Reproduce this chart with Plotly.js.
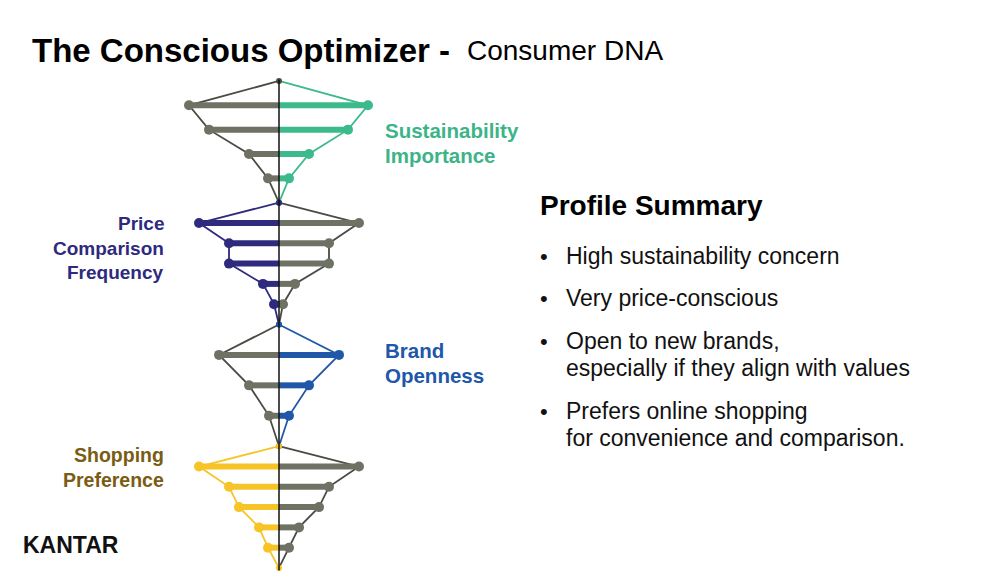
<!DOCTYPE html>
<html>
<head>
<meta charset="utf-8">
<script src="https://cdn.plot.ly/plotly-3.0.1.min.js"></script>
<style>html,body{margin:0;padding:0;background:#fff;}#chart{width:1004px;height:576px;}</style>
</head>
<body>
<div id="chart"></div>
<script>
// ---- data ----
const segmentLabels = [["Sustainability", "Importance"], ["Price", "Comparison", "Frequency"], ["Brand", "Openness"], ["Shopping", "Preference"]];
const sustainabilityLeft = [9, 7, 3, 1.1];
const sustainabilityRight = [8.9, 6.9, 3, 1];
const priceLeft = [8, 5, 5, 1.6, 0.5];
const priceRight = [8, 5, 5, 1.6, 0.4];
const brandLeft = [6, 3, 1];
const brandRight = [6, 3, 1];
const shoppingLeft = [8, 5, 4, 2, 1.1];
const shoppingRight = [8, 5, 4, 2, 1];
const coloredSide = ["right", "left", "right", "left"];
const summaryTitle = "Profile Summary";
const summaryBullets = [["High sustainability concern"], ["Very price-conscious"], ["Open to new brands,", "especially if they align with values"], ["Prefers online shopping", "for convenience and comparison."]];

// ---- styles ----
const segColors = ["#3dba8b", "#2e2a7e", "#2057a8", "#f7c427"];
const labelColors = ["#3db487", "#2e2a7e", "#2057a8", "#7a5c12"];
const grayBar = "#6e7264";
const grayLine = "#4a4b43";
const FONT = "Liberation Sans, Arial, sans-serif";

const W = 1004, H = 576;
const px = x => x / W;
const py = y => 1 - y / H;

const segments = [
  [sustainabilityLeft, sustainabilityRight],
  [priceLeft, priceRight],
  [brandLeft, brandRight],
  [shoppingLeft, shoppingRight]
];

const traces = [];
segments.forEach((seg, s) => {
  [0, 1].forEach(side => {
    const vals = seg[side];
    const sign = side === 0 ? -1 : 1;
    const isColored = (coloredSide[s] === "left") === (side === 0);
    const barC = isColored ? segColors[s] : grayBar;
    const lineC = isColored ? segColors[s] : grayLine;
    const n = vals.length;
    const ys = vals.map((v, i) => s + (i + 1) / (n + 1));
    // outline
    traces.push({
      x: [0].concat(vals.map(v => sign * v), [0]),
      y: [s].concat(ys, [s + 1]),
      mode: "lines", line: {color: lineC, width: 1.8}, hoverinfo: "skip", showlegend: false
    });
    // bars
    const bx = [], by = [];
    vals.forEach((v, i) => { bx.push(0, sign * v, null); by.push(ys[i], ys[i], null); });
    traces.push({x: bx, y: by, mode: "lines", line: {color: barC, width: 6}, hoverinfo: "skip", showlegend: false});
    // end markers
    traces.push({
      x: vals.map(v => sign * v), y: ys, mode: "markers",
      marker: {color: barC, size: 10}, hoverinfo: "skip", showlegend: false
    });
  });
});
// apex markers
segments.forEach((seg, s) => {
  traces.push({x: [0, 0], y: [s, s + 1], mode: "markers", marker: {color: s === 0 ? grayLine : segColors[s], size: 6}, hoverinfo: "skip", showlegend: false});
});
// central axis line
traces.push({x: [0, 0], y: [-0.01, segments.length + 0.02], mode: "lines", line: {color: "#111", width: 1.5}, hoverinfo: "skip", showlegend: false});

const annotations = [];
function txt(x, y, text, size, color, anchor, bold) {
  annotations.push({
    xref: "paper", yref: "paper", x: px(x), y: py(y), xanchor: anchor, yanchor: "middle",
    text: bold ? "<b>" + text + "</b>" : text, showarrow: false,
    font: {family: FONT, size: size, color: color}
  });
}
// title
txt(30, 50, "The Conscious Optimizer -", 33, "#000", "left", true);
txt(465, 51, "Consumer DNA", 28, "#000", "left", false);

// segment labels
const labelPos = [
  {x: 383, y: 130, anchor: "left", size: 20.5},
  {x: 166, y: 223, anchor: "right", size: 19},
  {x: 383, y: 350, anchor: "left", size: 20.5},
  {x: 166, y: 455, anchor: "right", size: 19.5}
];
segmentLabels.forEach((lines, s) => {
  lines.forEach((l, j) => txt(labelPos[s].x, labelPos[s].y + j * 25, l, labelPos[s].size, labelColors[s], labelPos[s].anchor, true));
});

// summary
txt(538, 205, summaryTitle, 28, "#000", "left", true);
const bulletY = [256, 298, 341, 411];
summaryBullets.forEach((lines, i) => {
  txt(538, bulletY[i], "•", 22, "#111", "left", false);
  lines.forEach((l, j) => txt(564, bulletY[i] + j * 27, l, 23, "#111", "left", false));
});

// logo
txt(21, 545, "KANTAR", 23, "#111", "left", true);

const layout = {
  width: W, height: H,
  margin: {l: 0, r: 0, t: 0, b: 0},
  paper_bgcolor: "#fff", plot_bgcolor: "#fff",
  xaxis: {range: [-27.9, 72.5], visible: false, fixedrange: true},
  yaxis: {range: [4.066, -0.665], visible: false, fixedrange: true},
  annotations: annotations,
  shapes: [{type: "rect", xref: "paper", yref: "paper", x0: px(24), x1: px(25.6), y0: py(537), y1: py(554), fillcolor: "#f2c230", line: {width: 0}, layer: "above"}],
  showlegend: false
};
Plotly.newPlot("chart", traces, layout, {displayModeBar: false, staticPlot: true});
</script>
</body>
</html>
